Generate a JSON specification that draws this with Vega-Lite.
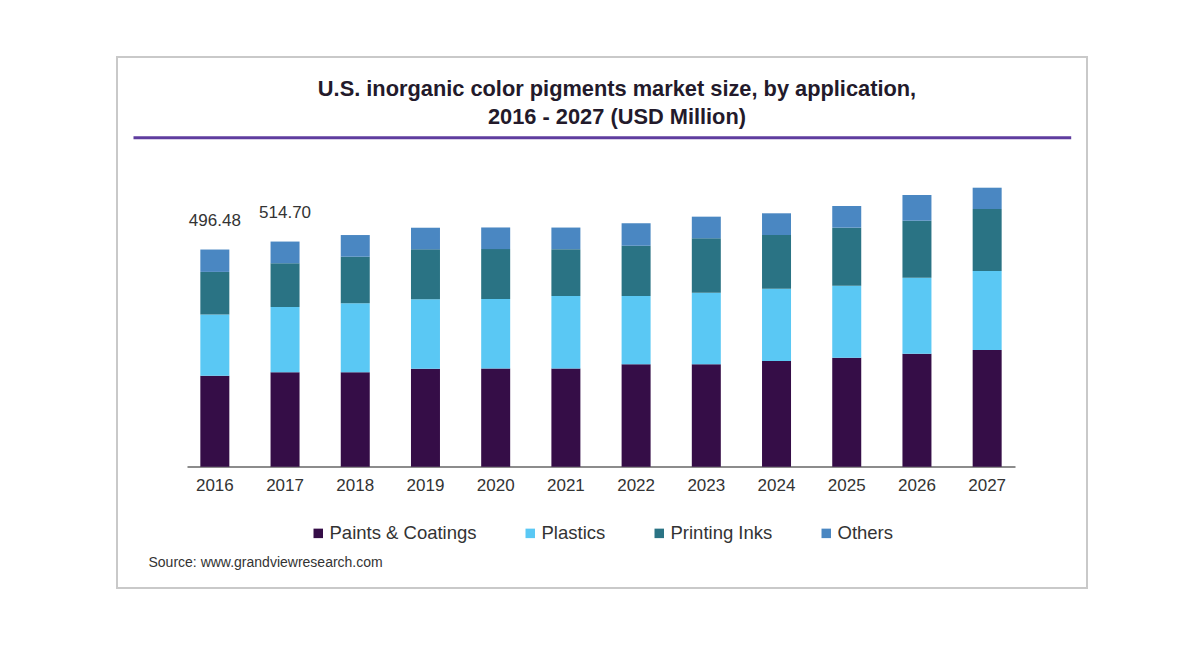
{
  "$schema": "https://vega.github.io/schema/vega-lite/v6.json",
  "width": 970,
  "height": 531,
  "autosize": {"type": "none"},
  "padding": {"left": 117, "top": 57, "right": 113, "bottom": 62},
  "background": "white",
  "config": {
    "view": {"stroke": "#c9c9c9", "strokeWidth": 2},
    "font": "Liberation Sans"
  },
  "title": {
    "text": ["U.S. inorganic color pigments market size, by application,", "2016 - 2027 (USD Million)"],
    "fontSize": 21.8,
    "fontWeight": "bold",
    "color": "#231a2b",
    "anchor": "middle",
    "frame": "group",
    "baseline": "top",
    "offset": -72,
    "dx": 15,
    "lineHeight": 28
  },
  "datasets": {
    "market": [
      {"year": "2016", "application": "Paints & Coatings", "value": 207.8},
      {"year": "2016", "application": "Plastics", "value": 140.2},
      {"year": "2016", "application": "Printing Inks", "value": 97.3},
      {"year": "2016", "application": "Others", "value": 51.18},
      {"year": "2017", "application": "Paints & Coatings", "value": 215.8},
      {"year": "2017", "application": "Plastics", "value": 149.3},
      {"year": "2017", "application": "Printing Inks", "value": 99.9},
      {"year": "2017", "application": "Others", "value": 49.7},
      {"year": "2018", "application": "Paints & Coatings", "value": 215.8},
      {"year": "2018", "application": "Plastics", "value": 157.7},
      {"year": "2018", "application": "Printing Inks", "value": 106.5},
      {"year": "2018", "application": "Others", "value": 49.6},
      {"year": "2019", "application": "Paints & Coatings", "value": 224.0},
      {"year": "2019", "application": "Plastics", "value": 158.6},
      {"year": "2019", "application": "Printing Inks", "value": 114.3},
      {"year": "2019", "application": "Others", "value": 49.4},
      {"year": "2020", "application": "Paints & Coatings", "value": 224.5},
      {"year": "2020", "application": "Plastics", "value": 158.9},
      {"year": "2020", "application": "Printing Inks", "value": 114.0},
      {"year": "2020", "application": "Others", "value": 49.5},
      {"year": "2021", "application": "Paints & Coatings", "value": 224.3},
      {"year": "2021", "application": "Plastics", "value": 166.2},
      {"year": "2021", "application": "Printing Inks", "value": 106.8},
      {"year": "2021", "application": "Others", "value": 49.4},
      {"year": "2022", "application": "Paints & Coatings", "value": 234.1},
      {"year": "2022", "application": "Plastics", "value": 156.1},
      {"year": "2022", "application": "Printing Inks", "value": 115.0},
      {"year": "2022", "application": "Others", "value": 51.2},
      {"year": "2023", "application": "Paints & Coatings", "value": 234.1},
      {"year": "2023", "application": "Plastics", "value": 163.7},
      {"year": "2023", "application": "Printing Inks", "value": 124.4},
      {"year": "2023", "application": "Others", "value": 49.4},
      {"year": "2024", "application": "Paints & Coatings", "value": 241.6},
      {"year": "2024", "application": "Plastics", "value": 165.3},
      {"year": "2024", "application": "Printing Inks", "value": 122.8},
      {"year": "2024", "application": "Others", "value": 49.6},
      {"year": "2025", "application": "Paints & Coatings", "value": 249.2},
      {"year": "2025", "application": "Plastics", "value": 164.6},
      {"year": "2025", "application": "Printing Inks", "value": 132.6},
      {"year": "2025", "application": "Others", "value": 49.6},
      {"year": "2026", "application": "Paints & Coatings", "value": 258.3},
      {"year": "2026", "application": "Plastics", "value": 173.7},
      {"year": "2026", "application": "Printing Inks", "value": 130.3},
      {"year": "2026", "application": "Others", "value": 58.8},
      {"year": "2027", "application": "Paints & Coatings", "value": 266.8},
      {"year": "2027", "application": "Plastics", "value": 180.6},
      {"year": "2027", "application": "Printing Inks", "value": 141.7},
      {"year": "2027", "application": "Others", "value": 48.7}
    ],
    "labels": [
      {"year": "2016", "total": 496.48},
      {"year": "2017", "total": 514.70}
    ]
  },
  "layer": [
    {
      "layer": [
        {
          "data": {"name": "market"},
          "transform": [
            {"calculate": "indexof(['Paints & Coatings', 'Plastics', 'Printing Inks', 'Others'], datum.application)", "as": "stackOrder"}
          ],
          "mark": {"type": "bar"},
          "encoding": {
            "x": {
              "field": "year",
              "type": "ordinal",
              "scale": {"range": [70, 898], "paddingInner": 0.587, "paddingOuter": 0.19},
              "axis": {
                "orient": "bottom",
                "offset": -121.6,
                "domainColor": "#8c8c8c",
                "domainWidth": 2,
                "ticks": false,
                "labelFontSize": 17,
                "labelColor": "#333333",
                "labelPadding": 11,
                "labelAngle": 0,
                "title": "Source: www.grandviewresearch.com",
                "titleFontSize": 14,
                "titleFontWeight": "normal",
                "titleColor": "#333333",
                "titleAnchor": "start",
                "titleAlign": "left",
                "titleX": 31,
                "titleY": 100,
                "titleBaseline": "alphabetic"
              }
            },
            "y": {
              "field": "value",
              "type": "quantitative",
              "stack": "zero",
              "scale": {"domain": [0, 936.6], "range": [409.7, 0], "nice": false},
              "axis": null
            },
            "order": {"field": "stackOrder", "type": "quantitative", "sort": "ascending"},
            "color": {
              "field": "application",
              "type": "nominal",
              "sort": ["Paints & Coatings", "Plastics", "Printing Inks", "Others"],
              "scale": {
                "domain": ["Paints & Coatings", "Plastics", "Printing Inks", "Others"],
                "range": ["#350d47", "#5ac8f4", "#2a7384", "#4a87c2"]
              },
              "legend": {
                "title": null,
                "orient": "none",
                "direction": "horizontal",
                "columns": 4,
                "legendX": 192,
                "legendY": 467,
                "padding": 0,
                "symbolType": "square",
                "symbolSize": 90,
                "symbolStrokeWidth": 0,
                "labelFontSize": 18.5,
                "labelColor": "#333333",
                "labelOffset": 2,
                "columnPadding": 44
              }
            }
          }
        },
        {
          "data": {"name": "labels"},
          "mark": {"type": "text", "dy": -29, "fontSize": 17, "color": "#333333"},
          "encoding": {
            "x": {"field": "year", "type": "ordinal"},
            "y": {"field": "total", "type": "quantitative", "scale": {"domain": [0, 936.6], "range": [409.7, 0], "nice": false}},
            "text": {"field": "total", "type": "quantitative", "format": ".2f"}
          }
        }
      ]
    },
    {
      "data": {"name": "market"},
      "mark": {"type": "point", "opacity": 0},
      "encoding": {
        "x": {
          "field": "year",
          "type": "ordinal",
          "scale": {"range": [16, 953.7]},
          "axis": {
            "orient": "top",
            "offset": -80.3,
            "domainColor": "#5f3d9f",
            "domainWidth": 3,
            "ticks": false,
            "labels": false,
            "title": null
          }
        }
      }
    }
  ],
  "resolve": {"scale": {"x": "independent"}, "axis": {"x": "independent"}}
}
